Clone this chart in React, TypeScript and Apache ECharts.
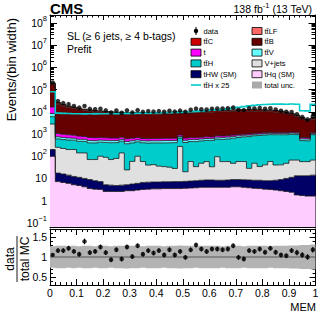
import React, { useEffect, useRef } from "react";
import * as echarts from "echarts";

// ---- binning / axis ranges ----
const BIN_WIDTH = 0.02;
const N_BINS = 50;
const Y_MIN = 0.065;
const Y_MAX = 2.3e8;
const R_MIN = 0.3;
const R_MAX = 1.7;
const X_TICKS = 0.1;

// ---- stacked processes (events per bin), bottom -> top ----
const tHq = [100, 7.2, 6.6, 6.0, 5.2, 4.8, 4.2, 3.5, 3.3, 3.2, 2.6, 2.6, 2.6, 2.6, 2.8, 2.8, 3.0, 3.2, 3.3, 3.4, 3.4, 3.5, 3.5, 3.5, 3.5, 3.6, 3.7, 3.8, 4.0, 4.0, 4.0, 4.0, 4.0, 4.0, 4.2, 4.2, 4.0, 3.8, 3.6, 3.5, 3.3, 3.2, 3.0, 2.8, 2.6, 2.4, 1.8, 1.7, 1.6, 1.6];
const tHW = [100, 10.2, 9.2, 8.1, 7.1, 6.4, 5.8, 5.4, 4.6, 4.0, 2.6, 2.4, 2.2, 2.4, 2.4, 2.8, 3.0, 3.4, 3.5, 3.5, 3.5, 3.6, 3.6, 3.7, 3.7, 3.8, 3.9, 4.1, 4.3, 4.5, 4.5, 4.3, 4.3, 4.5, 4.7, 4.7, 4.7, 4.7, 4.7, 4.8, 4.6, 4.7, 5.3, 6.1, 7.4, 8.8, 11.4, 11.5, 11.6, 12.5];
const vJets = [2620, 234, 208, 186, 188, 130, 131, 62, 63, 93, 84, 66, 75, 136, 19, 53, 94, 51, 33, 35, 29, 27, 25, 21, 268, 12.6, 50, 26, 40, 49, 25, 87, 49, 49, 39, 49, 49, 20, 40, 26, 33, 50, 32, 32, 38, 56, 54, 44, 44, 53];
const ttH = [3200, 350, 340, 335, 330, 330, 325, 330, 325, 330, 330, 335, 330, 335, 340, 340, 345, 345, 350, 355, 360, 365, 370, 380, 385, 395, 405, 420, 440, 460, 480, 500, 520, 540, 600, 640, 690, 740, 790, 830, 860, 880, 890, 890, 880, 900, 880, 450, 440, 870];
const ttV = [2500, 150, 140, 130, 120, 115, 110, 110, 105, 105, 100, 100, 98, 100, 102, 100, 100, 98, 100, 102, 100, 110, 108, 110, 112, 110, 110, 108, 110, 112, 110, 130, 128, 130, 132, 130, 130, 128, 130, 132, 130, 140, 138, 140, 142, 140, 140, 100, 100, 130];
const singleTop = [8000, 300, 280, 260, 240, 220, 200, 190, 180, 170, 160, 150, 150, 150, 150, 150, 150, 130, 130, 130, 130, 130, 130, 130, 130, 130, 120, 120, 120, 120, 120, 120, 120, 120, 120, 120, 110, 110, 110, 110, 110, 110, 110, 110, 110, 110, 110, 90, 90, 100];
const ttB = [151000, 21040, 16980, 14360, 12730, 11330, 10300, 9630, 8960, 8500, 8110, 7740, 7550, 7300, 7220, 7190, 7140, 7210, 7220, 7210, 7210, 7380, 7380, 7560, 7500, 7940, 8100, 8320, 8490, 8680, 8900, 9020, 9270, 9250, 9430, 9630, 9590, 9570, 9500, 9480, 9190, 8910, 8460, 7820, 7030, 5930, 4750, 4020, 3150, 3240];
const ttC = [24000, 3160, 2570, 2180, 1950, 1730, 1580, 1480, 1380, 1320, 1260, 1200, 1170, 1150, 1120, 1120, 1120, 1120, 1120, 1120, 1120, 1150, 1150, 1170, 1200, 1230, 1260, 1290, 1320, 1350, 1380, 1410, 1440, 1440, 1480, 1510, 1510, 1510, 1510, 1510, 1480, 1440, 1380, 1290, 1170, 1020, 850, 670, 550, 630];
const ttLF = [8000, 1050, 855, 730, 650, 580, 530, 490, 460, 440, 420, 400, 390, 380, 370, 370, 370, 370, 370, 370, 370, 380, 380, 390, 400, 410, 420, 430, 440, 450, 460, 470, 480, 480, 490, 500, 500, 500, 500, 500, 490, 480, 460, 430, 390, 340, 280, 225, 180, 210];

// ---- observed data ----
const dataObs = [210000, 30510, 24800, 22200, 18490, 15460, 18320, 13650, 13090, 13700, 11620, 9300, 11530, 9070, 11660, 9420, 11940, 9980, 10820, 10260, 10820, 10030, 11270, 10260, 11400, 10130, 12350, 13940, 13150, 12790, 13780, 14100, 14180, 14420, 15740, 12460, 11960, 14600, 14350, 15110, 13780, 14660, 12860, 11260, 10060, 9870, 7860, 5900, 4570, 6200];

// ---- relative total uncertainty and ratio error bars ----
const uncRel = [0.27, 0.28, 0.28, 0.27, 0.28, 0.27, 0.28, 0.28, 0.27, 0.28, 0.28, 0.27, 0.28, 0.28, 0.29, 0.28, 0.28, 0.27, 0.28, 0.28, 0.28, 0.27, 0.28, 0.28, 0.29, 0.28, 0.28, 0.27, 0.28, 0.28, 0.28, 0.28, 0.27, 0.28, 0.28, 0.28, 0.27, 0.28, 0.28, 0.28, 0.28, 0.27, 0.28, 0.28, 0.28, 0.29, 0.29, 0.3, 0.3, 0.31];
const ratioErr = [0.04, 0.06, 0.06, 0.06, 0.06, 0.06, 0.07, 0.06, 0.06, 0.06, 0.06, 0.06, 0.06, 0.06, 0.06, 0.06, 0.06, 0.06, 0.06, 0.06, 0.06, 0.06, 0.06, 0.06, 0.06, 0.06, 0.06, 0.06, 0.06, 0.06, 0.06, 0.06, 0.06, 0.06, 0.06, 0.06, 0.06, 0.06, 0.06, 0.06, 0.06, 0.06, 0.06, 0.06, 0.06, 0.06, 0.07, 0.07, 0.07, 0.07];

const TTH_SCALE = 25;
const FONT = "'Liberation Sans', Arial, Helvetica, sans-serif";

const COLORS = {
  tHq: "#ffccff",
  tHW: "#000066",
  vJets: "#e0e0e0",
  ttH: "#00cccc",
  ttV: "#66ffff",
  t: "#ff00ff",
  ttB: "#660000",
  ttC: "#cc0000",
  ttLF: "#ff6666",
  unc: "#aaaaaa",
  line: "#00cccc",
};

const stack = [
  { values: tHq, color: COLORS.tHq },
  { values: tHW, color: COLORS.tHW },
  { values: vJets, color: COLORS.vJets },
  { values: ttH, color: COLORS.ttH },
  { values: ttV, color: COLORS.ttV },
  { values: singleTop, color: COLORS.t },
  { values: ttB, color: COLORS.ttB },
  { values: ttC, color: COLORS.ttC },
  { values: ttLF, color: COLORS.ttLF },
];

const edges = Array.from({ length: N_BINS + 1 }, (_, i) => Math.round(i * BIN_WIDTH * 1000) / 1000);
const centers = edges.slice(0, N_BINS).map((e) => e + BIN_WIDTH / 2);

function stepPoints(api: any, vals: number[]) {
  const pts: number[][] = [];
  for (let i = 0; i < N_BINS; i++) {
    pts.push(api.coord([edges[i], vals[i]]));
    pts.push(api.coord([edges[i + 1], vals[i]]));
  }
  return pts;
}

function buildOption() {
  const cum: number[][] = [];
  let prev = new Array(N_BINS).fill(0);
  for (const layer of stack) {
    const next = prev.map((p: number, i: number) => p + layer.values[i]);
    cum.push(next);
    prev = next;
  }
  const total = prev;
  const ratio = dataObs.map((d, i) => d / total[i]);
  const ttHScaled = ttH.map((v) => v * TTH_SCALE);

  const layerSeries = stack.map((layer, k) => {
    const lower = k === 0 ? new Array(N_BINS).fill(Y_MIN) : cum[k - 1];
    const upper = cum[k];
    return {
      type: "custom",
      xAxisIndex: 0,
      yAxisIndex: 0,
      silent: true,
      clip: true,
      z: 2,
      data: [[0.5, 1]],
      renderItem: (_p: any, api: any) => {
        const top = stepPoints(api, upper);
        const bottom = stepPoints(api, lower).reverse();
        return {
          type: "group",
          children: [
            { type: "polygon", z2: 0, shape: { points: top.concat(bottom) }, style: { fill: layer.color } },
            { type: "polyline", z2: 10, shape: { points: top }, style: { stroke: "#1a1a1a", lineWidth: 0.8, fill: null } },
          ],
        };
      },
    };
  });

  const axisLine = { show: true, onZero: false, lineStyle: { color: "#000", width: 1 } };
  const tickStyle = { color: "#000", width: 1 };
  const labelStyle = { color: "#000", fontFamily: FONT, fontSize: 10.5 };

  const xBase = (gridIndex: number, position: string, showLabel: boolean, major: number, minor: number) => ({
    type: "value",
    gridIndex,
    position,
    min: 0,
    max: 1,
    interval: X_TICKS,
    axisLine,
    splitLine: { show: false },
    axisTick: { show: true, inside: true, length: major, lineStyle: tickStyle },
    minorTick: { show: true, splitNumber: 5, length: minor, lineStyle: tickStyle },
    axisLabel: { show: showLabel, margin: 2, ...labelStyle },
  });

  const logLabel = (v: number) => {
    const k = Math.round(Math.log10(v));
    if (k === 0) return "{b|1}";
    if (k === 1) return "{b|10}";
    return `{b|10}{s|${k < 0 ? "\u2212" + -k : k}}`;
  };

  const yLog = (position: string, showLabel: boolean) => ({
    type: "log",
    gridIndex: 0,
    position,
    logBase: 10,
    min: Y_MIN,
    max: Y_MAX,
    splitNumber: 10,
    axisLine,
    splitLine: { show: false },
    axisTick: { show: true, inside: true, length: 7, lineStyle: tickStyle },
    minorTick: { show: true, splitNumber: 9, length: 4, lineStyle: tickStyle },
    axisLabel: {
      show: showLabel,
      margin: 3,
      showMinLabel: false,
      showMaxLabel: false,
      formatter: logLabel,
      rich: {
        b: { fontSize: 10.5, fontFamily: FONT, color: "#000" },
        s: { fontSize: 7.5, fontFamily: FONT, color: "#000", padding: [0, 0, 9, 0] },
      },
    },
  });

  const yRatio = (position: string, showLabel: boolean) => ({
    type: "value",
    gridIndex: 1,
    position,
    min: R_MIN,
    max: R_MAX,
    splitNumber: 3,
    axisLine,
    splitLine: { show: false },
    axisTick: { show: true, inside: true, length: 6, lineStyle: tickStyle },
    minorTick: { show: true, splitNumber: 5, length: 3, lineStyle: tickStyle },
    axisLabel: { show: showLabel, margin: 3, showMinLabel: false, showMaxLabel: false, ...labelStyle },
  });

  const txt = (x: number, y: number, text: string, size: number, o: any = {}) => ({
    type: "text",
    x,
    y,
    silent: true,
    rotation: o.rotation || 0,
    style: {
      text,
      fontSize: size,
      fontFamily: FONT,
      fontWeight: o.weight || "normal",
      fill: "#000",
      align: o.align || "left",
      textAlign: o.align || "left",
      verticalAlign: "middle",
      textVerticalAlign: "middle",
      rich: o.rich,
    },
  });

  // legend
  const legendRows = (i: number) => 31 + 10.8 * i;
  const col1 = [
    { label: "data", kind: "data" },
    { label: "tt\u0304C", color: COLORS.ttC },
    { label: "t", color: COLORS.t },
    { label: "tt\u0304H", color: COLORS.ttH },
    { label: "tHW (SM)", color: COLORS.tHW },
    { label: "tt\u0304H x 25", kind: "line" },
  ];
  const col2 = [
    { label: "tt\u0304LF", color: COLORS.ttLF },
    { label: "tt\u0304B", color: COLORS.ttB },
    { label: "tt\u0304V", color: COLORS.ttV },
    { label: "V+jets", color: COLORS.vJets },
    { label: "tHq (SM)", color: COLORS.tHq },
    { label: "total unc.", color: COLORS.unc, noBorder: true },
  ];
  const legendEls: any[] = [];
  const addCol = (items: any[], boxX: number, textX: number) => {
    items.forEach((it, i) => {
      const y = legendRows(i);
      if (it.kind === "data") {
        legendEls.push({ type: "line", silent: true, shape: { x1: boxX + 5, y1: y - 4, x2: boxX + 5, y2: y + 4 }, style: { stroke: "#000", lineWidth: 1 } });
        legendEls.push({ type: "circle", silent: true, shape: { cx: boxX + 5, cy: y, r: 2.2 }, style: { fill: "#000" } });
      } else if (it.kind === "line") {
        legendEls.push({ type: "line", silent: true, shape: { x1: boxX, y1: y, x2: boxX + 10, y2: y }, style: { stroke: COLORS.line, lineWidth: 1.6 } });
      } else {
        legendEls.push({
          type: "rect",
          silent: true,
          shape: { x: boxX, y: y - 3.5, width: 10, height: 7 },
          style: { fill: it.color, stroke: it.noBorder ? null : "#000", lineWidth: 0.8 },
        });
      }
      legendEls.push(txt(textX, y, it.label, 7.5));
    });
  };
  addCol(col1, 191, 203.5);
  addCol(col2, 252, 264.5);

  const graphic = [
    txt(50, 8, "CMS", 15, { weight: "bold" }),
    txt(312, 9, "{a|138 fb}{s|-1}{a| (13 TeV)}", 10.5, {
      align: "right",
      rich: {
        a: { fontSize: 10.5, fontFamily: FONT, color: "#000" },
        s: { fontSize: 7.5, fontFamily: FONT, color: "#000", padding: [0, 0, 8, 0] },
      },
    }),
    txt(67, 36, "SL (\u2265 6 jets, \u2265 4 b-tags)", 10.5),
    txt(67, 48.5, "Prefit", 10.5),
    txt(11, 18, "Events/(bin width)", 13, { align: "right", rotation: Math.PI / 2 }),
    {
      type: "group",
      x: 17,
      y: 259,
      rotation: Math.PI / 2,
      silent: true,
      children: [
        txt(0, -7, "data", 12, { align: "center" }),
        { type: "line", shape: { x1: -23, y1: 0, x2: 23, y2: 0 }, style: { stroke: "#000", lineWidth: 0.9 } },
        txt(0, 7.5, "total MC", 12, { align: "center" }),
      ],
    },
    txt(316, 307, "MEM", 11, { align: "right" }),
    ...legendEls,
  ];

  return {
    animation: false,
    backgroundColor: "#fff",
    textStyle: { fontFamily: FONT },
    graphic,
    grid: [
      { left: 50, top: 15, width: 265.5, height: 212 },
      { left: 50, top: 229, width: 265.5, height: 56 },
    ],
    xAxis: [
      xBase(0, "bottom", false, 5, 2.5),
      xBase(0, "top", false, 5, 2.5),
      xBase(1, "bottom", true, 6, 3),
      xBase(1, "top", false, 6, 3),
    ],
    yAxis: [yLog("left", true), yLog("right", false), yRatio("left", true), yRatio("right", false)],
    series: [
      ...layerSeries,
      {
        type: "custom",
        xAxisIndex: 0,
        yAxisIndex: 0,
        silent: true,
        clip: true,
        z: 3,
        data: [[0.5, 1]],
        renderItem: (_p: any, api: any) => ({
          type: "polyline",
          shape: { points: stepPoints(api, ttHScaled) },
          style: { stroke: COLORS.line, lineWidth: 1.6, fill: null },
        }),
      },
      {
        type: "scatter",
        xAxisIndex: 0,
        yAxisIndex: 0,
        silent: true,
        z: 5,
        symbol: "circle",
        symbolSize: 4.5,
        itemStyle: { color: "#000" },
        data: centers.map((c, i) => [c, dataObs[i]]),
      },
      {
        type: "custom",
        xAxisIndex: 2,
        yAxisIndex: 2,
        silent: true,
        clip: true,
        z: 2,
        data: [[0.5, 1]],
        renderItem: (_p: any, api: any) => {
          const top = stepPoints(api, uncRel.map((u) => 1 + u));
          const bottom = stepPoints(api, uncRel.map((u) => 1 - u)).reverse();
          const a = api.coord([0, 1]);
          const b = api.coord([1, 1]);
          return {
            type: "group",
            children: [
              { type: "polygon", shape: { points: top.concat(bottom) }, style: { fill: "#b3b3b3" } },
              { type: "line", shape: { x1: a[0], y1: a[1], x2: b[0], y2: b[1] }, style: { stroke: "#555", lineWidth: 1 } },
            ],
          };
        },
      },
      {
        type: "custom",
        xAxisIndex: 2,
        yAxisIndex: 2,
        silent: true,
        clip: true,
        z: 4,
        data: centers.map((c, i) => [c, ratio[i], ratioErr[i]]),
        renderItem: (_p: any, api: any) => {
          const x = api.value(0);
          const r = api.value(1);
          const e = api.value(2);
          const p1 = api.coord([x, r - e]);
          const p2 = api.coord([x, r + e]);
          return { type: "line", shape: { x1: p1[0], y1: p1[1], x2: p2[0], y2: p2[1] }, style: { stroke: "#000", lineWidth: 1 } };
        },
      },
      {
        type: "scatter",
        xAxisIndex: 2,
        yAxisIndex: 2,
        silent: true,
        z: 5,
        symbol: "circle",
        symbolSize: 4.5,
        itemStyle: { color: "#000" },
        data: centers.map((c, i) => [c, ratio[i]]),
      },
    ],
  };
}

export default function App() {
  const ref = useRef<HTMLDivElement>(null);
  useEffect(() => {
    if (!ref.current) return;
    const chart = echarts.init(ref.current, undefined, { renderer: "svg" });
    chart.setOption(buildOption() as any);
    return () => chart.dispose();
  }, []);
  return <div ref={ref} style={{ position: "fixed", left: 0, top: 0, width: 332, height: 325 }} />;
}
